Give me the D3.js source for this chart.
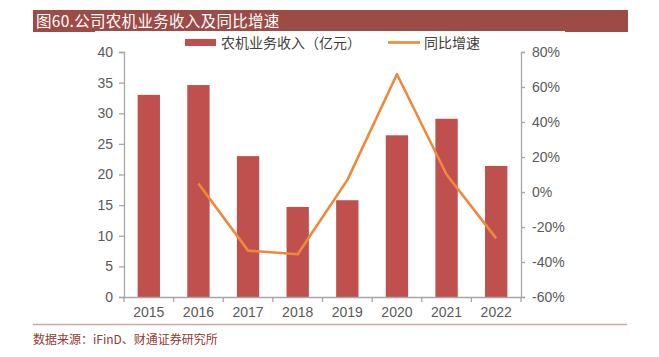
<!DOCTYPE html>
<html><head><meta charset="utf-8">
<script src="https://cdn.jsdelivr.net/npm/d3@7"></script>
<style>
html,body{margin:0;padding:0;background:#fff;}
svg{display:block;}
</style></head>
<body>
<script>
const years = ["2015","2016","2017","2018","2019","2020","2021","2022"];
const revenue = [33.0, 34.6, 23.0, 14.7, 15.8, 26.4, 29.1, 21.4];
const growth = [null, 4.9, -33.5, -35.6, 6.8, 67.3, 10.0, -26.5];
const leftTicks = [0,5,10,15,20,25,30,35,40];
const rightTicks = [-60,-40,-20,0,20,40,60,80];
const titleText = "图60.公司农机业务收入及同比增速";
const legendBar = "农机业务收入（亿元）";
const legendLine = "同比增速";
const sourceText = "数据来源：iFinD、财通证券研究所";

const W = 659, H = 357;
const svg = d3.select("body").append("svg").attr("width", W).attr("height", H);
const cjk = "'Noto Sans CJK SC', sans-serif";
const num = "'Liberation Sans', Arial, sans-serif";

// title bar
svg.append("rect").attr("x",33).attr("y",10).attr("width",595).attr("height",22).attr("fill","#9c4b46");
svg.append("rect").attr("x",95).attr("y",31).attr("width",470).attr("height",2).attr("fill","#fff");
svg.append("text").attr("x",36).attr("y",27).attr("fill","#fff")
  .style("font-family",cjk).style("font-size","15.5px").style("letter-spacing","0.3px").text(titleText);

const pLeft = 124, pRight = 521, pTop = 52, pBottom = 297;
const x = d3.scaleBand().domain(years).range([pLeft,pRight]).paddingInner(0.55).paddingOuter(0.275);
const xb = d3.scaleBand().domain(years).range([pLeft,pRight]);
const yL = d3.scaleLinear().domain([0,40]).range([pBottom,pTop]);
const yR = d3.scaleLinear().domain([-60,80]).range([pBottom,pTop]);

const axisColor = "#a6a6a6", textColor = "#595959";

// bars
svg.append("g").selectAll("rect").data(years).join("rect")
  .attr("x", d=>x(d)).attr("width", x.bandwidth())
  .attr("y", (d,i)=>yL(revenue[i])).attr("height",(d,i)=>yL(0)-yL(revenue[i]))
  .attr("fill","#c0504d");

// line
const pts = years.map((d,i)=>[xb(d)+xb.bandwidth()/2, growth[i]]).filter(p=>p[1]!==null);
svg.append("path").datum(pts)
  .attr("d", d3.line().x(p=>p[0]).y(p=>yR(p[1])))
  .attr("fill","none").attr("stroke","#f0883a").attr("stroke-width",2.6).attr("stroke-linejoin","round");

// axes
function styleAxis(g){
  g.selectAll(".domain").attr("stroke",axisColor).attr("stroke-width",1.3);
  g.selectAll(".tick line").attr("stroke",axisColor).attr("stroke-width",1.3);
  g.selectAll("text").attr("fill",textColor).style("font-family",num).style("font-size","14px");
}
const gL = svg.append("g").attr("transform",`translate(${pLeft},0)`)
  .call(d3.axisLeft(yL).tickValues(leftTicks).tickSize(5).tickSizeOuter(5).tickPadding(6));
styleAxis(gL);
const gR = svg.append("g").attr("transform",`translate(${pRight},0)`)
  .call(d3.axisRight(yR).tickValues(rightTicks).tickFormat(d=>d+"%").tickSize(4).tickSizeOuter(4).tickPadding(7));
styleAxis(gR);

const gX = svg.append("g").attr("transform",`translate(0,${pBottom})`)
  .call(d3.axisBottom(xb).tickSize(0).tickPadding(10));
styleAxis(gX);
gX.selectAll(".boundary").data(years.concat(["end"])).join("line")
  .attr("x1",(d,i)=> i<years.length ? xb(d) : pRight).attr("x2",(d,i)=> i<years.length ? xb(d) : pRight)
  .attr("y1",0).attr("y2",5).attr("stroke",axisColor).attr("stroke-width",1.3);

// legend
const lg = svg.append("g");
lg.append("rect").attr("x",185).attr("y",39).attr("width",31).attr("height",7).attr("fill","#c0504d");
lg.append("text").attr("x",221).attr("y",47.5).attr("fill","#404040")
  .style("font-family",cjk).style("font-size","14px").text(legendBar);
lg.append("line").attr("x1",388).attr("x2",420).attr("y1",42.5).attr("y2",42.5)
  .attr("stroke","#f0883a").attr("stroke-width",2.6);
lg.append("text").attr("x",424).attr("y",47.5).attr("fill","#404040")
  .style("font-family",cjk).style("font-size","14px").text(legendLine);

// footer
svg.append("line").attr("x1",33).attr("x2",627).attr("y1",324.5).attr("y2",324.5)
  .attr("stroke","#d4a5a3").attr("stroke-width",1.3);
svg.append("text").attr("x",33).attr("y",344).attr("fill","#8e3b37")
  .style("font-family",cjk).style("font-size","12px").text(sourceText);
</script>
</body></html>
